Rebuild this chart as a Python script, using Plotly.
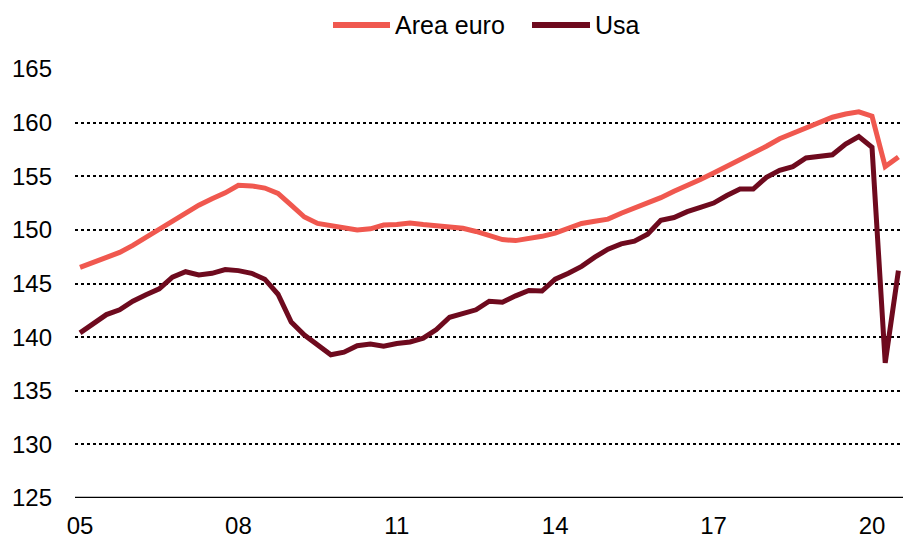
import plotly.graph_objects as go

# Quarterly data 2005Q1 .. 2020Q3
years = [y + q / 4 for y in range(2005, 2021) for q in range(4)][:63]

area_euro = [146.5, 146.95, 147.35, 147.9, 148.55, 149.3, 150.0, 150.8, 151.5, 152.3,
             152.9, 153.45, 154.15, 154.1, 153.9, 153.4, 152.3, 151.2, 150.6, 150.4,
             150.2, 150.0, 150.1, 150.45, 150.5, 150.65, 150.5, 150.35, 150.25, 150.15,
             149.85, 149.45, 149.1, 149.0, 149.15, 149.4, 149.7, 150.15, 150.6, 150.8,
             151.0, 151.55, 152.0, 152.5, 153.0, 153.6, 154.1, 154.7, 155.3, 155.9,
             156.6, 157.2, 157.8, 158.5, 159.0, 159.4, 159.9, 160.5, 160.8, 161.0,
             160.6, 155.9, 156.8]

usa = [140.4, 141.3, 142.1, 142.55, 143.35, 143.95, 144.5, 145.6, 146.1, 145.8,
       145.95, 146.3, 146.2, 145.95, 145.4, 144.0, 141.4, 140.2, 139.3, 138.35,
       138.6, 139.2, 139.35, 139.15, 139.4, 139.55, 139.9, 140.7, 141.85, 142.2,
       142.55, 143.35, 143.25, 143.85, 144.35, 144.3, 145.4, 145.95, 146.6, 147.45,
       148.2, 148.7, 148.95, 149.6, 150.9, 151.15, 151.7, 152.1, 152.5, 153.2,
       153.8, 153.8, 154.9, 155.55, 155.9, 156.7, 156.8, 157.0, 158.0, 158.7,
       157.7, 137.6, 146.2]

series_names = ["Area euro", "Usa"]
series_colors = ["#F0584F", "#6E0A1E"]

x_tickvals = [2005, 2008, 2011, 2014, 2017, 2020]
x_ticktext = ["05", "08", "11", "14", "17", "20"]
y_tickvals = [125, 130, 135, 140, 145, 150, 155, 160, 165]

FONT = "Liberation Sans, Arial, sans-serif"
W, H = 903, 540
ML, MR, MT, MB = 75, 0, 69, 42
PW, PH = W - ML - MR, H - MT - MB

fig = go.Figure()
for name, vals, col in zip(series_names, [area_euro, usa], series_colors):
    fig.add_trace(go.Scatter(x=years, y=vals, mode="lines", name=name,
                             line=dict(color=col, width=5), showlegend=False))

# manual legend (lines + labels) above the plot
def px_x(p):
    return (p - ML) / PW

def px_y(p):
    return (H - MB - p) / PH

legend_y = px_y(25)
legend_items = [(333, 390, 393), (532, 590, 593)]
shapes = [dict(type="line", xref="paper", yref="y", x0=0, x1=1, y0=125, y1=125,
               line=dict(color="black", width=2.5))]
annotations = []
for (x0, x1, xt), name, col in zip(legend_items, series_names, series_colors):
    shapes.append(dict(type="line", xref="paper", yref="paper",
                       x0=px_x(x0), x1=px_x(x1), y0=legend_y, y1=legend_y,
                       line=dict(color=col, width=6)))
    annotations.append(dict(xref="paper", yref="paper", x=px_x(xt), y=legend_y,
                            xanchor="left", yanchor="middle", text=name,
                            showarrow=False, font=dict(family=FONT, size=25, color="black")))

fig.update_layout(
    width=W, height=H,
    margin=dict(l=ML, r=MR, t=MT, b=MB, pad=0),
    paper_bgcolor="white", plot_bgcolor="white",
    font=dict(family=FONT, size=24, color="black"),
    showlegend=False,
    xaxis=dict(range=[2004.905, 2020.587], tickvals=x_tickvals, ticktext=x_ticktext,
               showgrid=False, zeroline=False, showline=False, ticks="",
               ticklabelstandoff=11, fixedrange=True),
    yaxis=dict(range=[125, 165], tickvals=y_tickvals, showgrid=True,
               gridcolor="black", griddash="dot", gridwidth=1.8,
               zeroline=False, showline=False, ticks="",
               ticklabelstandoff=22, fixedrange=True),
    shapes=shapes,
    annotations=annotations,
)

fig.write_html("out.html", config={"displayModeBar": False},
               post_script="document.body.style.margin='0px';document.body.style.overflow='hidden';")
